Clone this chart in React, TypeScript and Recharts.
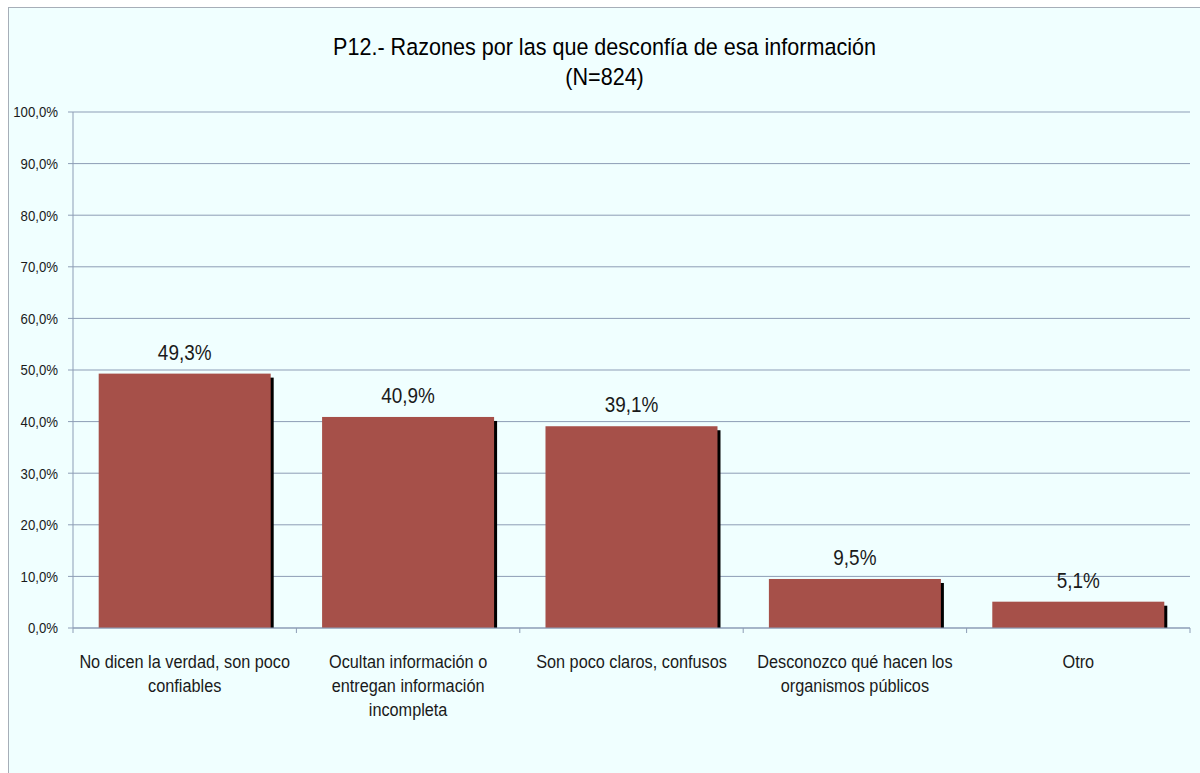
import React from "react";
import { BarChart, Bar, XAxis, YAxis, CartesianGrid, LabelList } from "recharts";

const categories = [
  "No dicen la verdad, son poco confiables",
  "Ocultan información o entregan información incompleta",
  "Son poco claros, confusos",
  "Desconozco qué hacen los organismos públicos",
  "Otro",
];
const values = [49.3, 40.9, 39.1, 9.5, 5.1];
const yTicks = [0, 10, 20, 30, 40, 50, 60, 70, 80, 90, 100];
const titleLine1 = "P12.- Razones por las que desconfía de esa información";
const titleLine2 = "(N=824)";

const data = categories.map((c, i) => ({ name: c, value: values[i] }));

const FONT = "'Liberation Sans', Arial, sans-serif";
const SX = 0.88; // horizontal condensing to mimic a narrow face
const AXIS_COLOR = "#8D9DB6";
const BAR_COLOR = "#A65049";
const BG = "#F0FFFF";
const TEXT = "#1A1A1A";

const fmt = (v: number) => v.toFixed(1).replace(".", ",") + "%";

function wrap(text: string, maxChars: number): string[] {
  const words = text.split(" ");
  const lines: string[] = [];
  let cur = "";
  for (const w of words) {
    const next = cur ? cur + " " + w : w;
    if (next.length > maxChars && cur) {
      lines.push(cur);
      cur = w;
    } else {
      cur = next;
    }
  }
  if (cur) lines.push(cur);
  return lines;
}

const NarrowText = ({ x, y, anchor, size, children }: any) => (
  <text
    transform={`translate(${x},${y}) scale(${SX},1)`}
    x={0}
    y={0}
    textAnchor={anchor}
    fontSize={size}
    fontFamily={FONT}
    fill={TEXT}
  >
    {children}
  </text>
);

const CategoryTick = (props: any) => {
  const { x, y, payload, index, visibleTicksCount } = props;
  const half = payload && payload.offset ? payload.offset : 111.7;
  const lines = wrap(String(payload.value), 28);
  return (
    <g>
      <line x1={x - half} y1={y} x2={x - half} y2={y + 5} stroke={AXIS_COLOR} strokeWidth={1} />
      {index === visibleTicksCount - 1 && (
        <line x1={x + half} y1={y} x2={x + half} y2={y + 5} stroke={AXIS_COLOR} strokeWidth={1} />
      )}
      {lines.map((l, i) => (
        <NarrowText key={i} x={x} y={y + 40 + i * 24} anchor="middle" size={18.5}>
          {l}
        </NarrowText>
      ))}
    </g>
  );
};

const YTick = (props: any) => {
  const { x, y, payload } = props;
  return (
    <NarrowText x={x} y={y + 5.3} anchor="end" size={15}>
      {fmt(Number(payload.value))}
    </NarrowText>
  );
};

const ValueLabel = (props: any) => {
  const { x, y, width, value } = props;
  return (
    <NarrowText x={Number(x) + Number(width) / 2} y={Number(y) - 14} anchor="middle" size={21.5}>
      {fmt(Number(value))}
    </NarrowText>
  );
};

const ShadowBar = (props: any) => {
  const { x, y, width, height } = props;
  if (!height || height <= 0) return null;
  return (
    <g>
      <rect x={x + 3} y={y + 4} width={width} height={Math.max(0, height - 4)} fill="#000000" />
      <rect x={x} y={y} width={width} height={height} fill={BAR_COLOR} />
    </g>
  );
};

export default function App() {
  return (
    <div
      style={{
        position: "fixed",
        left: 8,
        top: 7,
        width: 1192,
        height: 766,
        background: BG,
        borderTop: "1px solid #A6AEB8",
        borderLeft: "1px solid #A6AEB8",
        boxSizing: "border-box",
        fontFamily: FONT,
      }}
    >
      <div
        style={{
          position: "absolute",
          left: 0,
          top: 24,
          width: 1191,
          textAlign: "center",
          fontSize: 24.5,
          lineHeight: "30px",
          color: "#000",
          transform: `scaleX(${SX})`,
          transformOrigin: "596px 0px",
        }}
      >
        <div>{titleLine1}</div>
        <div>{titleLine2}</div>
      </div>
      <div style={{ position: "absolute", left: 0, top: 0 }}>
        <BarChart
          width={1191}
          height={765}
          data={data}
          margin={{ top: 104, right: 10, left: 4, bottom: 45 }}
          barCategoryGap="11.5%"
        >
          <CartesianGrid vertical={false} stroke={AXIS_COLOR} strokeWidth={1} />
          <XAxis
            dataKey="name"
            height={100}
            interval={0}
            tickLine={false}
            tickSize={0}
            tickMargin={0}
            axisLine={{ stroke: AXIS_COLOR }}
            tick={<CategoryTick />}
          />
          <YAxis
            width={60}
            domain={[0, 100]}
            ticks={yTicks}
            interval={0}
            tickSize={5}
            tickMargin={10}
            axisLine={{ stroke: AXIS_COLOR }}
            tickLine={{ stroke: AXIS_COLOR }}
            tick={<YTick />}
          />
          <Bar dataKey="value" shape={<ShadowBar />} isAnimationActive={false}>
            <LabelList dataKey="value" content={<ValueLabel />} />
          </Bar>
        </BarChart>
      </div>
    </div>
  );
}
